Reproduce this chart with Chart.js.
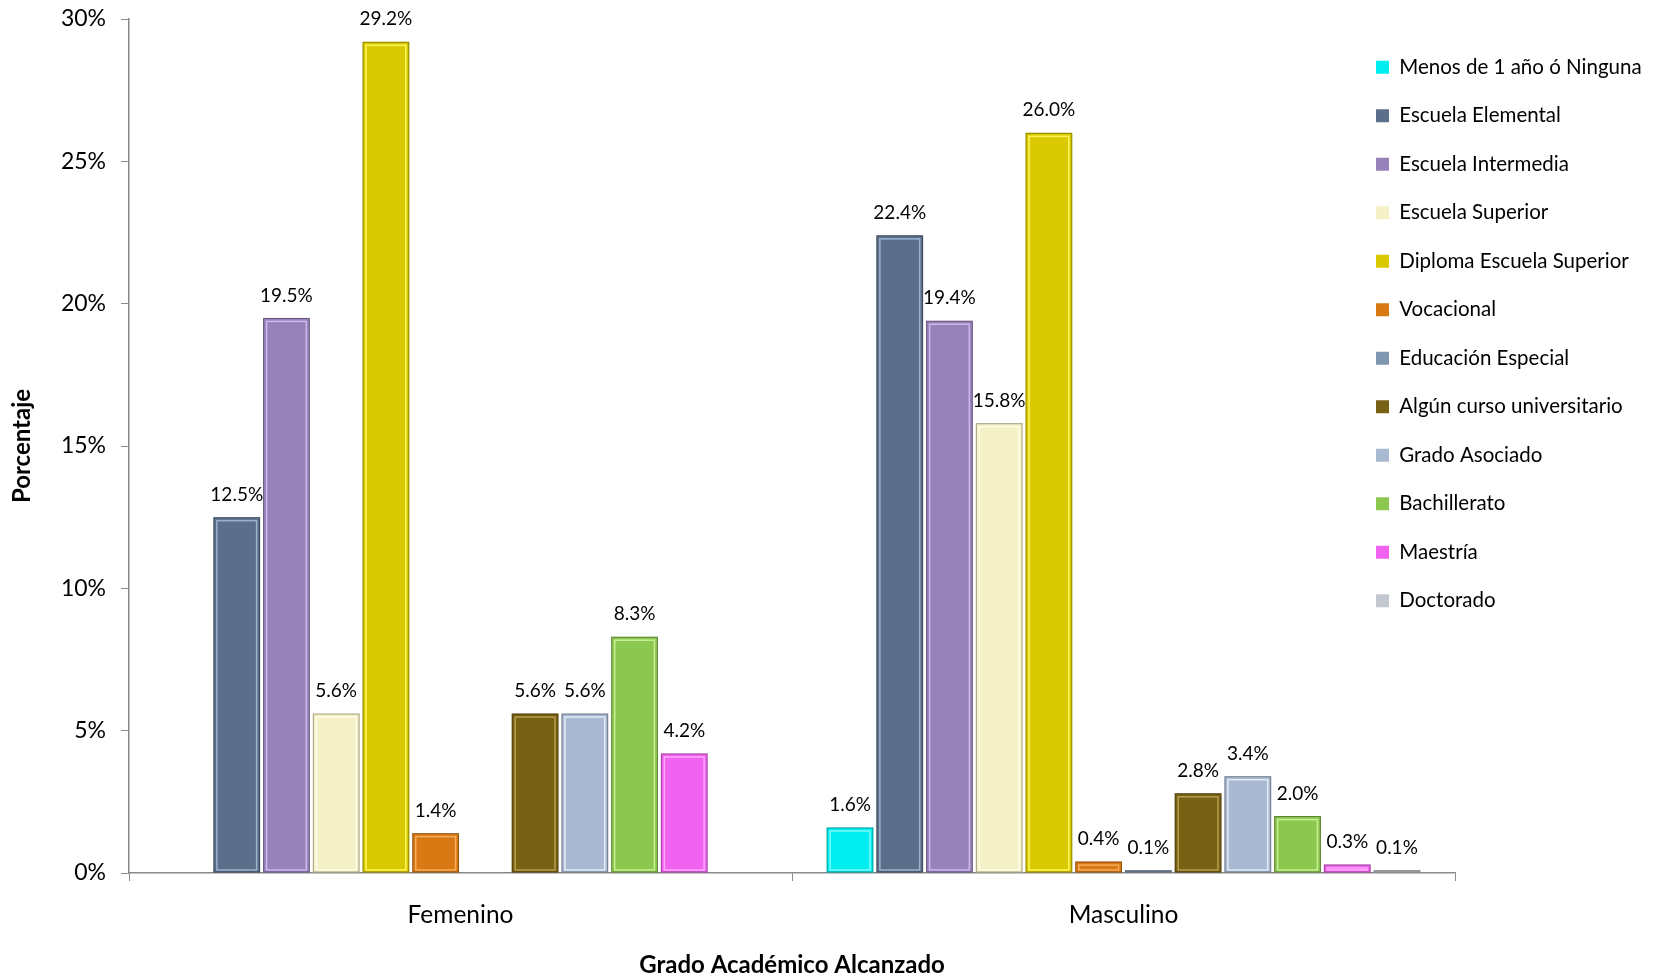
<!DOCTYPE html>
<html>
<head>
<meta charset="utf-8">
<script src="https://cdn.jsdelivr.net/npm/chart.js@4.4.1/dist/chart.umd.min.js"></script>
<style>
  html, body { margin: 0; padding: 0; background: #fff; }
  #wrap { width: 1660px; height: 980px; }
</style>
</head>
<body>
<div id="wrap"><canvas id="gradeChart" width="1660" height="980"></canvas></div>
<script>
// categories on the x axis
const genders = ["Femenino", "Masculino"];

// one series per academic level: [Femenino, Masculino]  (null = no bar)
const levels = [
    "Menos de 1 año ó Ninguna",
    "Escuela Elemental",
    "Escuela Intermedia",
    "Escuela Superior",
    "Diploma Escuela Superior",
    "Vocacional",
    "Educación Especial",
    "Algún curso universitario",
    "Grado Asociado",
    "Bachillerato",
    "Maestría",
    "Doctorado"
];
const menosDe1 = [null, 1.6];
const elemental = [12.5, 22.4];
const intermedia = [19.5, 19.4];
const superior = [5.6, 15.8];
const diploma = [29.2, 26.0];
const vocacional = [1.4, 0.4];
const especial = [null, 0.1];
const algunCurso = [5.6, 2.8];
const asociado = [5.6, 3.4];
const bachillerato = [8.3, 2.0];
const maestria = [4.2, 0.3];
const doctorado = [null, 0.1];

const yTicks = [0, 5, 10, 15, 20, 25, 30];

const seriesValues = [menosDe1, elemental, intermedia, superior, diploma, vocacional,
    especial, algunCurso, asociado, bachillerato, maestria, doctorado];

// fill / frame colours per level
const fills = ["#00eef0", "#5c6f8a", "#9882ba", "#f5f1c6", "#d9c900", "#d87914",
    "#8196b0", "#786015", "#a9b9d1", "#8cc74f", "#f062ef", "#c3c7cf"];
const frames = ["#7ff8fa", "#9cb2cf", "#cdb9ee", "#fffbe6", "#fff55a", "#f7ad5c",
    "#c2d2e6", "#b79e4a", "#e2ebf7", "#c8f091", "#ffaaff", "#eef0f4"];

const FONT = "Lato, 'Liberation Sans', sans-serif";

// bevel look + value labels
const barDecor = {
    id: "barDecor",
    afterDatasetsDraw(chart) {
        const ctx = chart.ctx;
        ctx.save();
        chart.data.datasets.forEach((ds, di) => {
            const meta = chart.getDatasetMeta(di);
            meta.data.forEach((bar, i) => {
                const v = ds.data[i];
                if (v === null || v === undefined) return;
                const left = bar.x - bar.width / 2;
                const top = bar.y;
                const h = bar.base - top;
                if (h > 6) {
                    ctx.strokeStyle = frames[di];
                    ctx.lineWidth = 1.5;
                    ctx.strokeRect(left + 3.5, top + 3.5, bar.width - 7, h - 6);
                }
                ctx.strokeStyle = "rgba(0,0,0,0.35)";
                ctx.lineWidth = 1;
                ctx.strokeRect(left + 0.5, top + 0.5, bar.width - 1, h - 1);

                ctx.fillStyle = "#000";
                ctx.font = "19px " + FONT;
                ctx.textAlign = "center";
                ctx.textBaseline = "bottom";
                ctx.fillText(v.toFixed(1) + "%", bar.x, top - 13);
            });
        });
        ctx.restore();
    }
};

// legend sits over the upper right of the plot, like the original
const legendPlace = {
    id: "legendPlace",
    beforeDraw(chart) {
        const lg = chart.legend;
        if (!lg) return;
        lg.left = 1376 - 28;
        lg.top = 29;
        lg.bottom = 980;
    }
};

const ctx = document.getElementById("gradeChart").getContext("2d");
const gradeChart = new Chart(ctx, {
    type: "bar",
    data: {
        labels: genders,
        datasets: levels.map((name, i) => ({
            label: name,
            data: seriesValues[i],
            backgroundColor: fills[i],
            borderWidth: 0,
            barPercentage: 0.94,
            categoryPercentage: 0.9
        }))
    },
    options: {
        responsive: false,
        animation: false,
        layout: { padding: { top: 0, right: 0, left: 0, bottom: 0 } },
        plugins: {
            legend: {
                position: "right",
                align: "start",
                maxWidth: 205,
                labels: {
                    boxWidth: 13,
                    boxHeight: 13,
                    padding: 28,
                    color: "#000",
                    font: { family: FONT, size: 20.5 }
                }
            },
            tooltip: { enabled: false }
        },
        scales: {
            x: {
                offset: true,
                grid: {
                    offset: true,
                    drawOnChartArea: false,
                    tickLength: 8,
                    color: "#888"
                },
                border: { color: "#888", width: 1.5 },
                ticks: {
                    color: "#000",
                    padding: 19,
                    font: { family: FONT, size: 24.5 }
                },
                title: {
                    display: true,
                    text: "Grado Académico Alcanzado",
                    color: "#000",
                    padding: { top: 0, bottom: 0 },
                    font: { family: FONT, size: 24, weight: "bold" }
                },
                afterFit(scale) { scale.height = 107; }
            },
            y: {
                min: 0,
                max: 30,
                afterBuildTicks(scale) {
                    scale.ticks = yTicks.map(v => ({ value: v }));
                },
                grid: {
                    drawOnChartArea: false,
                    tickLength: 8,
                    color: "#888"
                },
                border: { color: "#888", width: 1.5 },
                ticks: {
                    color: "#000",
                    padding: 15,
                    font: { family: FONT, size: 23 },
                    callback: v => v + "%"
                },
                title: {
                    display: true,
                    text: "Porcentaje",
                    color: "#000",
                    padding: { top: 8, bottom: 0 },
                    font: { family: FONT, size: 24, weight: "bold" }
                },
                afterFit(scale) {
                    scale.width = 129;
                    scale.paddingTop = 19;
                }
            }
        }
    },
    plugins: [barDecor, legendPlace]
});
</script>
</body>
</html>
